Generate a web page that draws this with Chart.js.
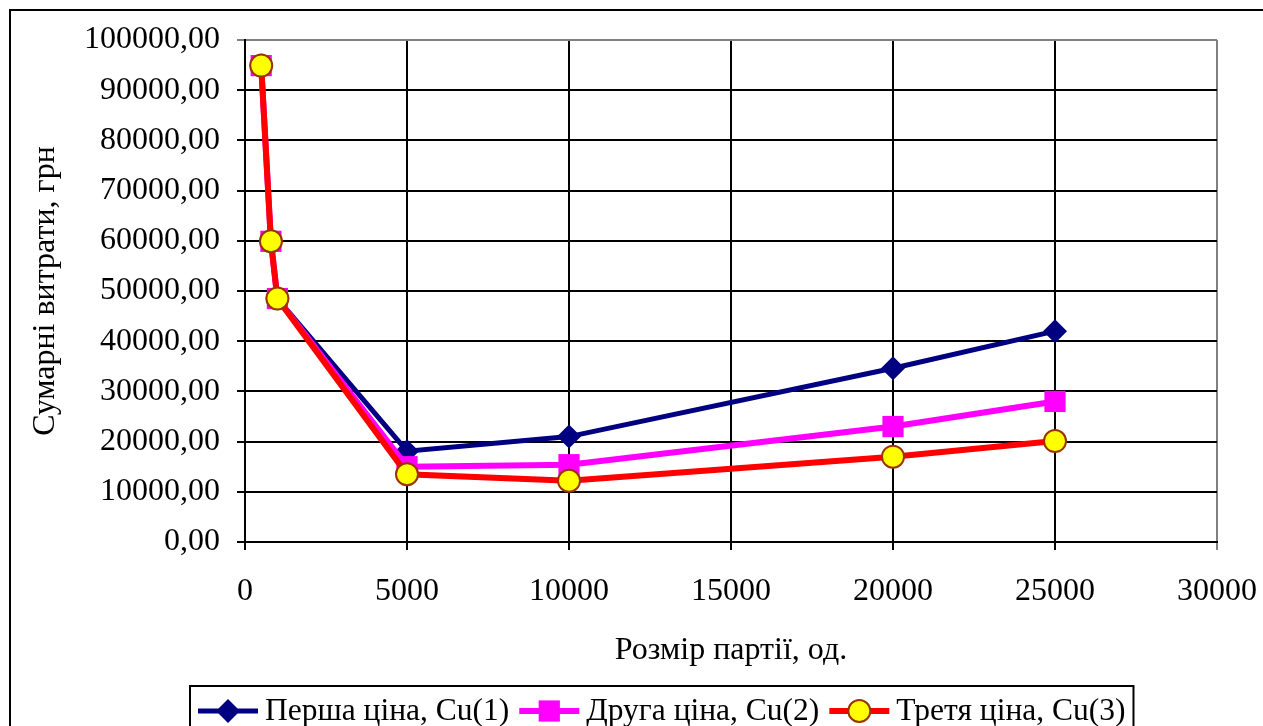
<!DOCTYPE html>
<html>
<head>
<meta charset="utf-8">
<script src="https://cdn.jsdelivr.net/npm/chart.js@4/dist/chart.umd.min.js"></script>
<style>
  body { margin: 0; background: #fff; }
  canvas { display: block; }
</style>
</head>
<body>
<canvas id="chart" width="1263" height="726"></canvas>
<script>
// batch sizes (units) and total costs (UAH) for the three prices
const batchSizes = [500, 800, 1000, 5000, 10000, 20000, 25000];
const costPrice1 = [94900, 59900, 48500, 18100, 21000, 34600, 42000];
const costPrice2 = [94900, 59900, 48500, 15000, 15400, 23000, 28000];
const costPrice3 = [94900, 59900, 48500, 13500, 12200, 17000, 20100];

const seriesLabels = ['Перша ціна, Cu(1)', 'Друга ціна, Cu(2)', 'Третя ціна, Cu(3)'];
const xTitle = 'Розмір партії, од.';
const yTitle = 'Сумарні витрати, грн';

const FONT = '"Liberation Serif", "Times New Roman", serif';
const GRAY = '#808080';

const toPoints = (ys) => ys.map((y, i) => ({ x: batchSizes[i], y: y }));

const ctx = document.getElementById('chart').getContext('2d');

// draws a legend sample: short line with the series marker on it
const drawSymbol = (c, ds, x, y) => {
    c.save();
    c.strokeStyle = ds.borderColor;
    c.lineWidth = ds.borderWidth;
    c.beginPath();
    c.moveTo(x, y);
    c.lineTo(x + 60, y);
    c.stroke();
    const cx = x + 30;
    c.fillStyle = ds.pointBackgroundColor;
    c.strokeStyle = ds.pointBorderColor;
    c.lineWidth = ds.pointBorderWidth;
    const r = ds.pointRadius;
    c.beginPath();
    if (ds.pointStyle === 'rectRot') {
        c.moveTo(cx, y - r);
        c.lineTo(cx + r, y);
        c.lineTo(cx, y + r);
        c.lineTo(cx - r, y);
        c.closePath();
    } else if (ds.pointStyle === 'rect') {
        const s = r * Math.SQRT1_2;
        c.rect(cx - s, y - s, 2 * s, 2 * s);
    } else {
        c.arc(cx, y, r, 0, Math.PI * 2);
    }
    c.fill();
    if (ds.pointBorderWidth) c.stroke();
    c.restore();
};

const frameAndLegend = {
    id: 'frameAndLegend',
    afterDraw(chart) {
        const c = chart.ctx;
        c.save();
        // outer frame
        c.strokeStyle = '#000';
        c.lineWidth = 2;
        c.strokeRect(10, 10, 1400, 900);

        // legend
        c.font = '31.5px ' + FONT;
        c.textBaseline = 'middle';
        c.fillStyle = '#000';
        const y = 711;
        let x = 198;
        chart.data.datasets.forEach((ds) => {
            drawSymbol(c, ds, x, y);
            c.fillStyle = '#000';
            c.textAlign = 'left';
            c.fillText(ds.label, x + 67, y + 1);
            x += 67 + c.measureText(ds.label).width + 10;
        });
        c.strokeStyle = '#000';
        c.lineWidth = 2;
        c.strokeRect(190, 686, x - 2 - 190, 80);
        c.restore();
    }
};

const chart = new Chart(ctx, {
    type: 'line',
    data: {
        datasets: [
            {
                label: seriesLabels[0],
                data: toPoints(costPrice1),
                borderColor: '#000080',
                borderWidth: 5,
                pointStyle: 'rectRot',
                pointRadius: 12,
                pointBackgroundColor: '#000080',
                pointBorderColor: '#000080',
                pointBorderWidth: 0,
                order: 3
            },
            {
                label: seriesLabels[1],
                data: toPoints(costPrice2),
                borderColor: '#ff00ff',
                borderWidth: 6,
                pointStyle: 'rect',
                pointRadius: 15,
                pointBackgroundColor: '#ff00ff',
                pointBorderColor: '#ff00ff',
                pointBorderWidth: 0,
                order: 2
            },
            {
                label: seriesLabels[2],
                data: toPoints(costPrice3),
                borderColor: '#ff0000',
                borderWidth: 6,
                pointStyle: 'circle',
                pointRadius: 11,
                pointBackgroundColor: '#ffff00',
                pointBorderColor: '#993300',
                pointBorderWidth: 2,
                order: 1
            }
        ]
    },
    options: {
        responsive: false,
        animation: false,
        clip: false,
        layout: { padding: { top: 40, right: 46, bottom: 44, left: 0 } },
        elements: { line: { tension: 0 } },
        plugins: {
            legend: { display: false },
            tooltip: { enabled: false }
        },
        scales: {
            x: {
                type: 'linear',
                min: 0,
                max: 30000,
                afterFit: (scale) => {
                    scale.height = 140;
                    scale.paddingLeft = 0;
                    scale.paddingRight = 0;
                },
                ticks: {
                    stepSize: 5000,
                    padding: 22,
                    color: '#000',
                    font: { family: FONT, size: 32 },
                    callback: (v) => String(v)
                },
                grid: {
                    color: (c) => (c.tick && c.tick.value === 30000 ? GRAY : '#000'),
                    lineWidth: 2,
                    tickLength: 8
                },
                border: { color: '#000', width: 2 },
                title: {
                    display: true,
                    text: xTitle,
                    color: '#000',
                    font: { family: FONT, size: 32 },
                    padding: { top: 0, bottom: 12 }
                }
            },
            y: {
                min: 0,
                max: 100000,
                afterFit: (scale) => {
                    scale.width = 245;
                    scale.paddingTop = 0;
                    scale.paddingBottom = 0;
                },
                ticks: {
                    stepSize: 10000,
                    padding: 17,
                    color: '#000',
                    font: { family: FONT, size: 32 },
                    callback: (v) => v.toFixed(2).replace('.', ',')
                },
                grid: {
                    color: (c) => (c.tick && c.tick.value === 100000 ? GRAY : '#000'),
                    lineWidth: 2,
                    tickLength: 8
                },
                border: { color: '#000', width: 2 },
                title: {
                    display: true,
                    text: yTitle,
                    color: '#000',
                    font: { family: FONT, size: 32 },
                    padding: { top: 26, bottom: 0 }
                }
            }
        }
    },
    plugins: [frameAndLegend]
});
</script>
</body>
</html>
